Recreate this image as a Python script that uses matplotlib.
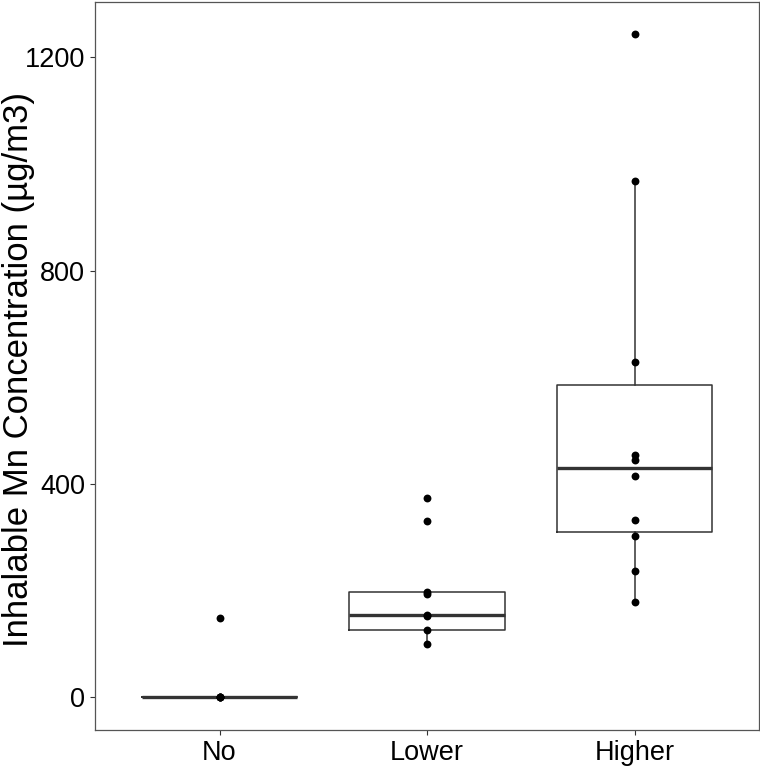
import matplotlib
matplotlib.use("Agg")
import matplotlib.pyplot as plt

plt.rcParams['font.family'] = ['Liberation Sans', 'DejaVu Sans']

groups = ["No", "Lower", "Higher"]
no_vals = [0, 0, 0, 0, 149]
lower_vals = [99, 126, 152, 153, 194, 197, 330, 374]
higher_vals = [179, 236, 301, 332, 414, 444, 454, 628, 967, 1243]

# Box summaries (q1, median, q3, whisker low, whisker high)
q1s = [0, 126, 309]
medians = [0, 154, 429]
q3s = [0, 196, 585]
whislos = [0, 99, 179]
whishis = [0, 196, 967]

yticks = [0, 400, 800, 1200]


def main() -> None:
  fig = plt.figure(figsize=(7.6, 7.66), dpi=100)
  ax = fig.add_axes([0.125, 0.047, 0.8737, 0.9506])

  # Build the stats dicts for bxp
  stats = []
  for i, g in enumerate(groups):
    stats.append({"label": g, "q1": q1s[i], "med": medians[i], "q3": q3s[i],
                  "whislo": whislos[i], "whishi": whishis[i], "fliers": []})

  positions = [1, 2, 3]
  ax.bxp(stats, positions=positions, widths=0.75, showfliers=False, showcaps=False,
         boxprops=dict(color="#333333", linewidth=1.1),
         whiskerprops=dict(color="#333333", linewidth=1.1),
         medianprops=dict(color="#333333", linewidth=2.4))

  # Points on top of boxes
  for pos, vals in zip(positions, [no_vals, lower_vals, higher_vals]):
    ax.scatter([pos] * len(vals), vals, s=32, color="black", zorder=3, linewidths=0)

  ax.set_xlim(0.4, 3.6)
  ax.set_ylim(-62, 1304)
  ax.set_xticks(positions, groups)
  ax.set_yticks(yticks, [str(t) for t in yticks])

  ax.tick_params(axis="both", labelsize=19.5, length=3.6, width=0.8, color="#333333",
                 labelcolor="black", pad=3.5)
  for spine in ax.spines.values():
    spine.set_color("#555555")
    spine.set_linewidth(0.9)

  ax.set_ylabel("Inhalable Mn Concentration (µg/m3)", fontsize=25)
  ax.yaxis.set_label_coords(-0.091, 0.495)

  fig.savefig("out.png", dpi=100)
  plt.close(fig)


if __name__ == "__main__":
  main()
